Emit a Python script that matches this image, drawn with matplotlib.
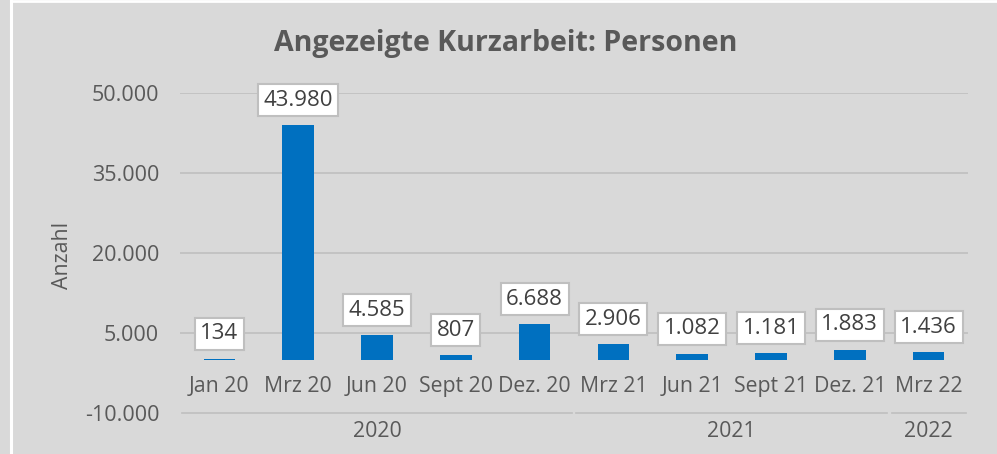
import matplotlib.pyplot as plt
import matplotlib.transforms as mtransforms
from matplotlib.lines import Line2D

months = ['Jan 20', 'Mrz 20', 'Jun 20', 'Sept 20', 'Dez. 20',
          'Mrz 21', 'Jun 21', 'Sept 21', 'Dez. 21', 'Mrz 22']
persons = [134, 43980, 4585, 807, 6688, 2906, 1082, 1181, 1883, 1436]
years = ['2020', '2021', '2022']
year_spans = [(0, 4), (5, 8), (9, 9)]
yticks = [-10000, 5000, 20000, 35000, 50000]

bg = '#d9d9d9'
txt = '#595959'
grid = '#bfbfbf'
blue = '#0070c0'

plt.rcParams['font.family'] = ['Open Sans', 'DejaVu Sans']

def fmt(v):
    return f'{v:,}'.replace(',', '.')

fig = plt.figure(figsize=(9.97, 4.54), dpi=100, facecolor=bg)
ax = fig.add_axes([0.1805, 0.0903, 0.7904, 0.7048])
ax.set_facecolor(bg)

x = list(range(len(months)))
ax.bar(x, persons, width=0.4, color=blue, zorder=3)
ax.set_xlim(-0.5, len(months) - 0.5)
ax.set_ylim(-10000, 50000)

for y in yticks[1:]:
    ax.axhline(y, color=grid, lw=1.2, zorder=1)
# bottom line split by year groups
for a, b in year_spans:
    ax.plot([a - 0.5 + 0.03, b + 0.5 - 0.03], [-10000, -10000], color=grid,
            lw=1.2, zorder=1, clip_on=False)

ax.set_yticks(yticks)
ax.set_yticklabels([fmt(t) for t in yticks], fontsize=15.5, color=txt)
ax.tick_params(axis='y', length=0, pad=15)
ax.set_xticks([])
for s in ax.spines.values():
    s.set_visible(False)

for xi, v, m in zip(x, persons, months):
    ax.annotate(fmt(v), (xi, v), xytext=(0, 18), textcoords='offset points',
                ha='center', va='center', fontsize=16, color='#404040', zorder=5,
                bbox=dict(boxstyle='square,pad=0.25', fc='white', ec=grid, lw=1.5))
    ax.annotate(m, (xi, 0), xytext=(0, -19), textcoords='offset points',
                ha='center', va='center', fontsize=15.3, color=txt)

trans = mtransforms.blended_transform_factory(ax.transData, ax.transAxes)
for name, (a, b) in zip(years, year_spans):
    ax.text((a + b) / 2, -0.059, name, transform=trans, ha='center', va='center',
            fontsize=15.3, color=txt)

fig.text(62 / 997, 1 - 255 / 454, 'Anzahl', rotation=90, ha='center', va='center',
         fontsize=15.3, color=txt)
fig.text(0.507, 0.905, 'Angezeigte Kurzarbeit: Personen', ha='center', va='center',
         fontsize=20.5, fontweight='bold', color=txt)

# white frame lines of the original panel
fig.add_artist(Line2D([10.5 / 997, 10.5 / 997], [0, 1], color='white', lw=2.2))
fig.add_artist(Line2D([12 / 997, 1], [1 - 1 / 454, 1 - 1 / 454], color='white', lw=2))

fig.savefig('out.png', dpi=100, facecolor=bg)
